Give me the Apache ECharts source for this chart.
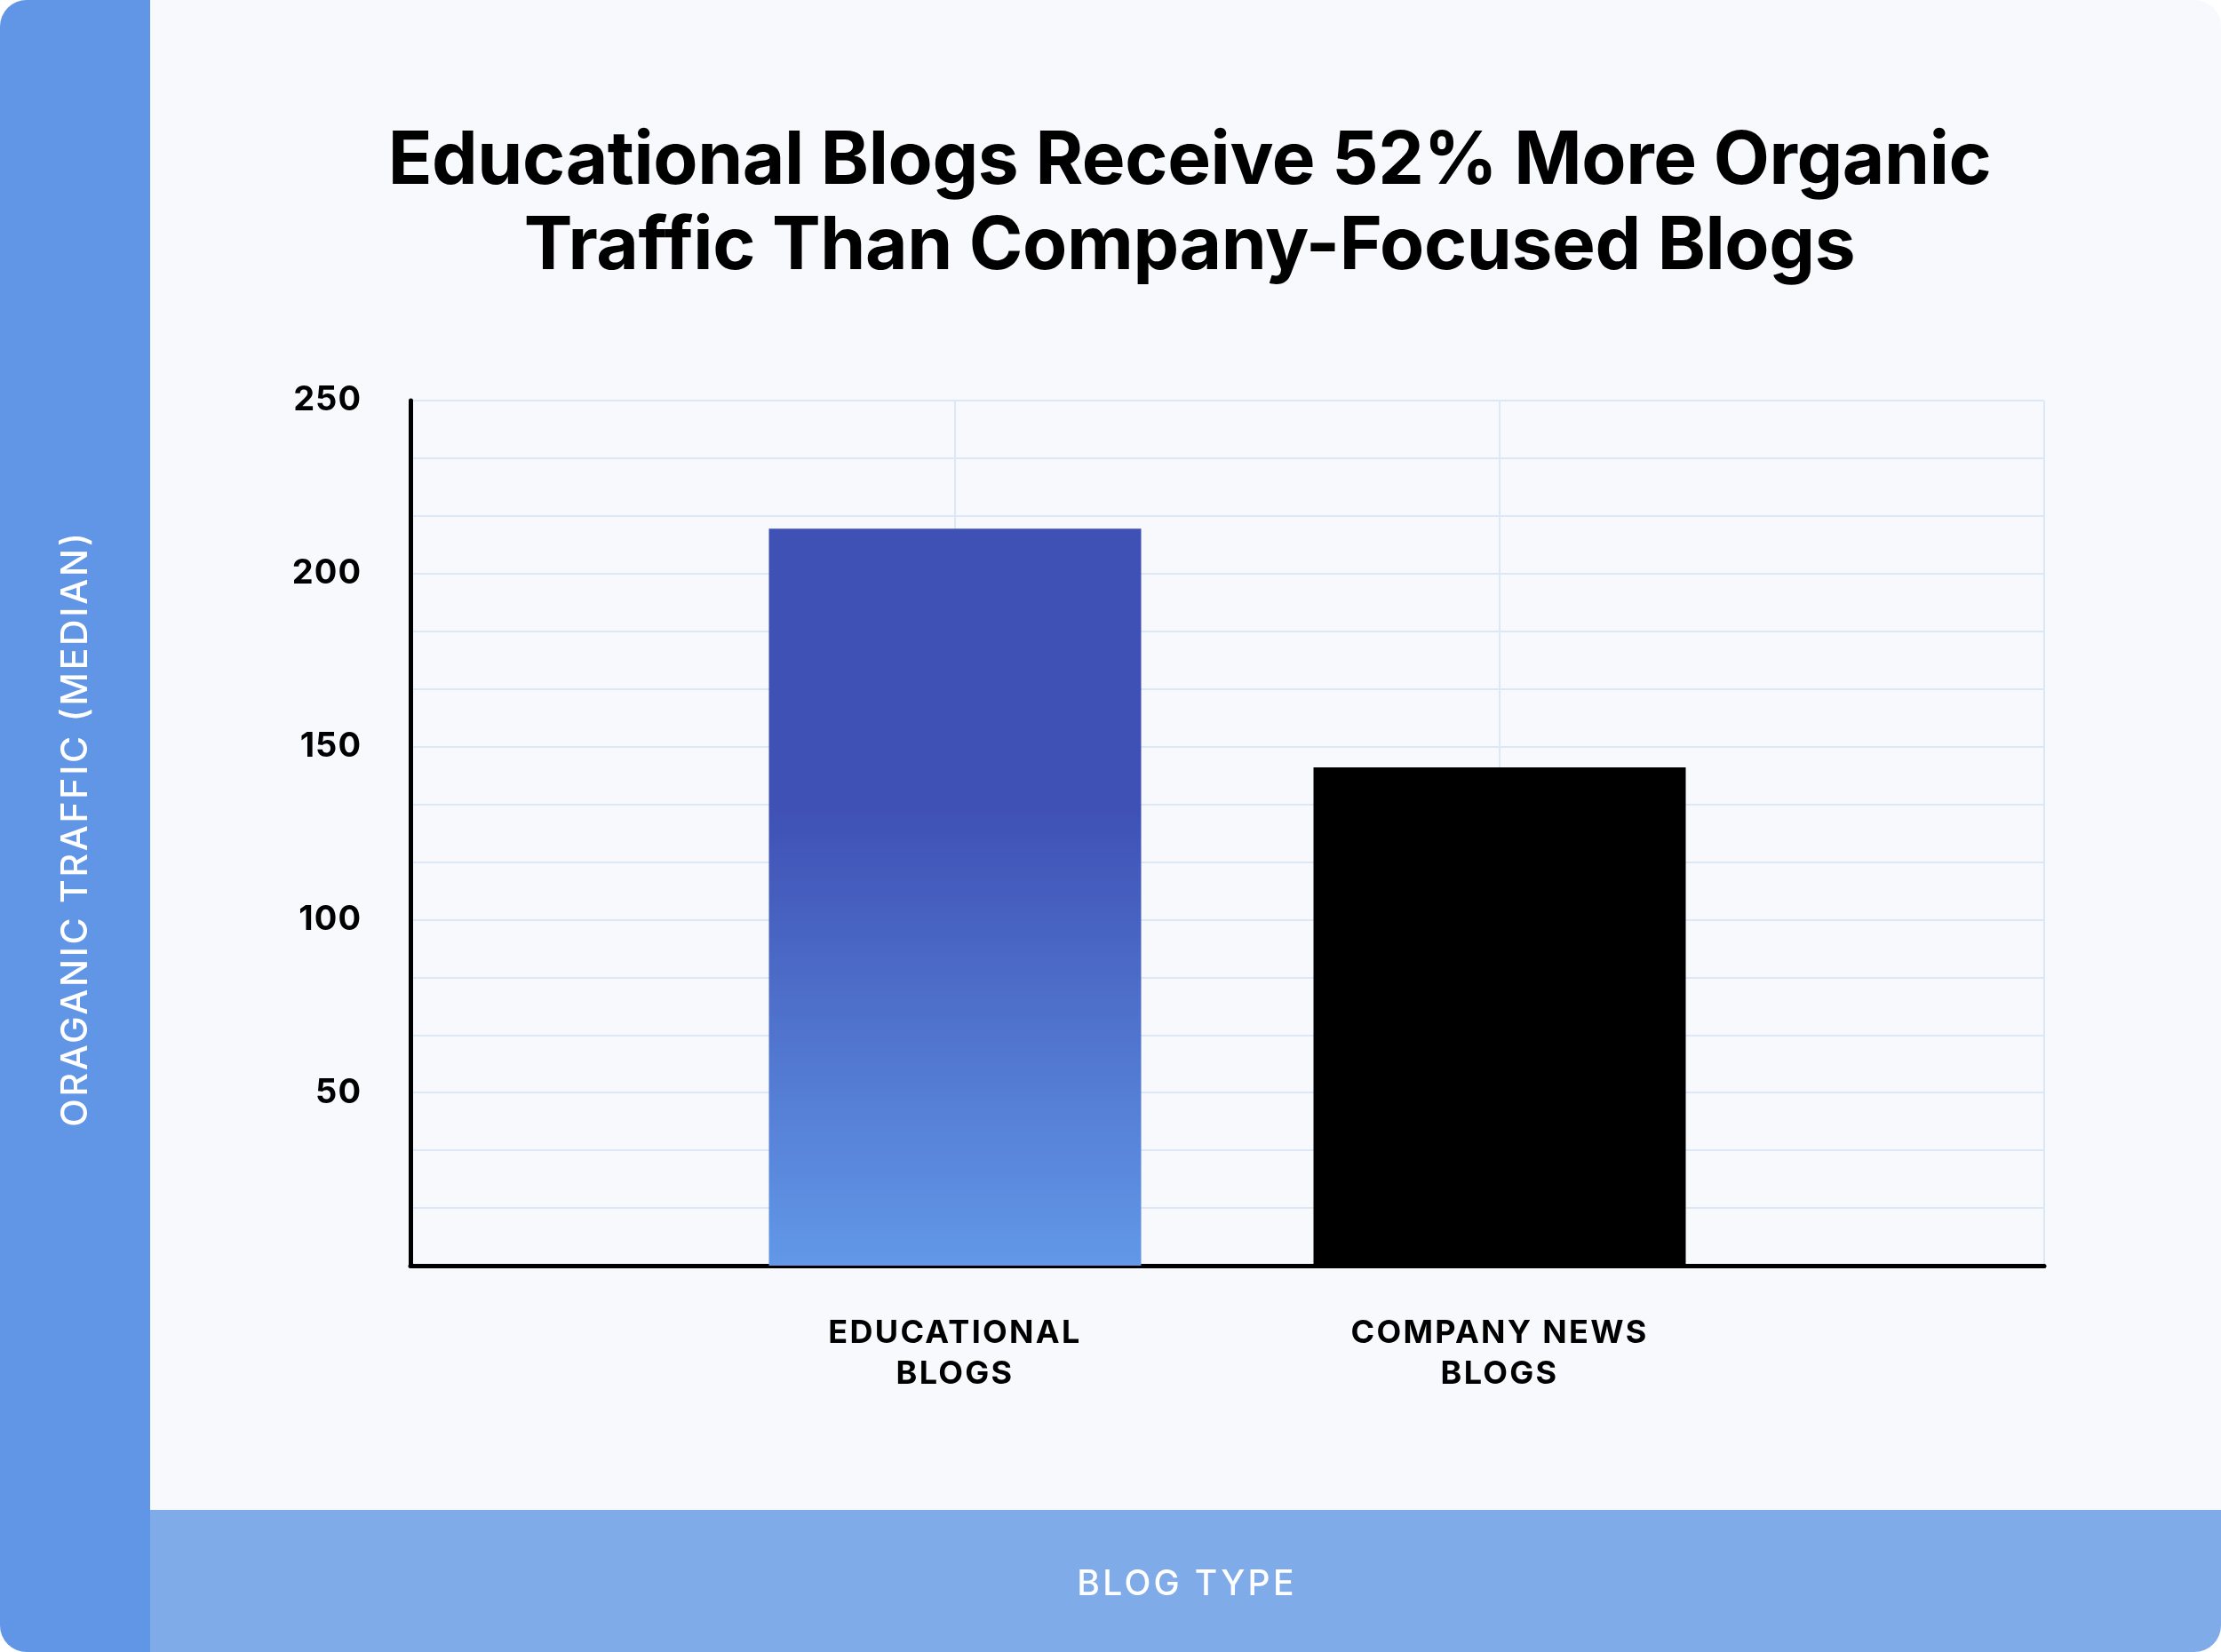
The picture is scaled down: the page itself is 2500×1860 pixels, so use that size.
<!DOCTYPE html>
<html>
<head>
<meta charset="utf-8">
<script src="https://cdn.jsdelivr.net/npm/echarts@6/dist/echarts.min.js"></script>
<style>
html,body{margin:0;padding:0;background:#ffffff;}
#chart{width:2500px;height:1860px;}
</style>
</head>
<body>
<div id="chart"></div>
<script>
// Data
const categories = ['', 'EDUCATIONAL\nBLOGS', 'COMPANY NEWS\nBLOGS', ''];
const trafficValues = ['-', 213, 144, '-'];
const yTickLabels = [50, 100, 150, 200, 250];
const titleText = 'Educational Blogs Receive 52% More Organic\nTraffic Than Company-Focused Blogs';
const yAxisTitle = 'ORAGANIC TRAFFIC (MEDIAN)';
const xAxisTitle = 'BLOG TYPE';

const FONT = 'Inter, "Noto Sans", sans-serif';

// Tracking (letter spacing) of the original design
const spacedLines = {};
categories.forEach(c => c.split('\n').forEach(l => { if (l) spacedLines[l] = 2.3; }));
yTickLabels.forEach(v => { spacedLines[String(v)] = 1; });
titleText.split('\n').forEach(l => { spacedLines[l] = -0.4; });
spacedLines[yAxisTitle] = 2.7;
spacedLines[xAxisTitle] = 3.3;
(function () {
  const proto = CanvasRenderingContext2D.prototype;
  if (!('letterSpacing' in proto)) return;
  const orig = proto.fillText;
  proto.fillText = function (t, x, y, w) {
    const ls = spacedLines[t];
    if (ls) {
      const prev = this.letterSpacing;
      this.letterSpacing = ls + 'px';
      const r = w === undefined ? orig.call(this, t, x, y) : orig.call(this, t, x, y, w);
      this.letterSpacing = prev;
      return r;
    }
    return orig.apply(this, arguments);
  };
})();

const chart = echarts.init(document.getElementById('chart'), null, {renderer: 'canvas'});

const eduGradient = new echarts.graphic.LinearGradient(0, 0, 0, 1, [
  {offset: 0, color: '#3f51b5'},
  {offset: 0.38, color: '#3f51b5'},
  {offset: 1, color: '#6298e7'}
]);

const barData = trafficValues.map((v, i) => {
  if (v === '-') return '-';
  return {
    value: v,
    itemStyle: {color: i === 1 ? eduGradient : '#000000'}
  };
});

chart.setOption({
  backgroundColor: '#ffffff',
  animation: false,
  title: {
    text: titleText,
    left: 1334,
    top: 129,
    textAlign: 'center',
    textStyle: {
      fontFamily: FONT,
      fontSize: 82,
      fontWeight: 700,
      color: '#000000',
      lineHeight: 96
    }
  },
  graphic: [
    {type: 'rect', z: -10, silent: true, shape: {x: 0, y: 0, width: 2500, height: 1860, r: 30}, style: {fill: '#f7f9fd'}},
    {type: 'rect', z: -9, silent: true, shape: {x: 0, y: 0, width: 169, height: 1860, r: [30, 0, 0, 30]}, style: {fill: '#6196e6'}},
    {type: 'rect', z: -9, silent: true, shape: {x: 169, y: 1700, width: 2331, height: 160, r: [0, 0, 30, 0]}, style: {fill: '#80abe9'}},
    {type: 'text', z: 5, silent: true, x: 86, y: 933, rotation: Math.PI / 2,
      style: {text: yAxisTitle, fill: '#ffffff', font: '500 41px ' + FONT, align: 'center', verticalAlign: 'middle'}},
    {type: 'text', z: 5, silent: true, x: 1336, y: 1784,
      style: {text: xAxisTitle, fill: '#ffffff', font: '500 39px ' + FONT, align: 'center', verticalAlign: 'middle'}}
  ],
  grid: {left: 462, right: 199, top: 451, bottom: 435, containLabel: false},
  xAxis: {
    type: 'category',
    data: categories,
    boundaryGap: false,
    axisLine: {show: true, onZero: false, lineStyle: {color: '#000000', width: 5, cap: 'round'}},
    axisTick: {show: false},
    axisLabel: {
      interval: 0,
      margin: 53,
      fontFamily: FONT,
      fontSize: 36,
      fontWeight: 700,
      color: '#000000',
      lineHeight: 46,
      align: 'center'
    },
    splitLine: {show: true, lineStyle: {color: '#dde8f7', width: 2}}
  },
  yAxis: {
    type: 'value',
    min: 0,
    max: 250,
    interval: 50 / 3,
    axisLine: {show: true, lineStyle: {color: '#000000', width: 5, cap: 'round'}},
    axisTick: {show: false},
    axisLabel: {
      margin: 55,
      padding: [6, 0, 0, 0],
      fontFamily: FONT,
      fontSize: 38,
      fontWeight: 700,
      color: '#000000',
      formatter: function (v) {
        const r = Math.round(v);
        if (Math.abs(v - r) < 1e-6 && yTickLabels.indexOf(r) >= 0) return String(r);
        return '';
      }
    },
    splitLine: {show: true, lineStyle: {color: '#dde8f7', width: 2}}
  },
  series: [{
    type: 'bar',
    data: barData,
    barWidth: 419,
    z: 3
  }]
});
</script>
</body>
</html>
